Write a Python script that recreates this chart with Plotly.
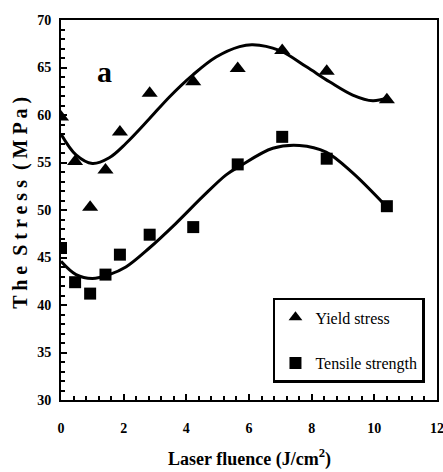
import plotly.graph_objects as go

fluence = [0, 0.45, 0.93, 1.42, 1.88, 2.83, 4.22, 5.64, 7.06, 8.48, 10.4]
yield_stress = [59.8, 55.1, 50.3, 54.2, 58.2, 62.3, 63.5, 64.9, 66.8, 64.6, 61.6]
tensile_strength = [46.0, 42.4, 41.2, 43.2, 45.3, 47.4, 48.2, 54.8, 57.7, 55.4, 50.4]

# Fitted trend curves
yield_fit_x = [0, 0.48, 1.0, 1.54, 2.07, 2.82, 3.46, 4.2, 4.95, 5.7, 6.12, 6.97, 7.82, 8.57, 9.31, 9.95, 10.4]
yield_fit_y = [58.0, 55.8, 54.9, 55.5, 57.0, 59.6, 61.9, 64.2, 66.1, 67.2, 67.4, 66.8, 65.1, 63.5, 62.1, 61.5, 61.8]
tensile_fit_x = [0, 0.48, 1.0, 1.54, 2.07, 2.82, 3.67, 4.52, 5.27, 5.7, 6.76, 7.61, 8.46, 9.31, 10.4]
tensile_fit_y = [44.6, 43.2, 42.8, 43.2, 44.0, 46.0, 48.6, 51.4, 53.7, 54.6, 56.5, 56.8, 56.1, 53.9, 50.3]

SERIF = "Liberation Serif"

fig = go.Figure()

fig.add_trace(go.Scatter(x=yield_fit_x, y=yield_fit_y, mode="lines",
                         line=dict(color="black", width=3, shape="spline", smoothing=1.0),
                         showlegend=False, hoverinfo="skip"))
fig.add_trace(go.Scatter(x=tensile_fit_x, y=tensile_fit_y, mode="lines",
                         line=dict(color="black", width=3, shape="spline", smoothing=1.0),
                         showlegend=False, hoverinfo="skip"))

fig.add_trace(go.Scatter(x=fluence, y=yield_stress, mode="markers", name="Yield stress",
                         legendgroup="a",
                         marker=dict(symbol="triangle-up", size=14, color="black")))
fig.add_trace(go.Scatter(x=fluence, y=tensile_strength, mode="markers", name="Tensile strength",
                         legendgroup="b",
                         marker=dict(symbol="square", size=12, color="black")))

axis_common = dict(
    showgrid=False, zeroline=False, showline=True, linecolor="black", linewidth=2,
    mirror=True, ticks="inside", ticklen=6, tickwidth=2, tickcolor="black",
    tickfont=dict(family=SERIF, size=14, color="black", weight="bold"),
    automargin=False, ticklabeloverflow="allow",
)

fig.update_xaxes(range=[0, 12], tickvals=[0, 2, 4, 6, 8, 10, 12], ticklabelstandoff=14,
                 minor=dict(dtick=0.4, ticks="inside", ticklen=4, tickwidth=1.5, tickcolor="black"),
                 **axis_common)
fig.update_yaxes(range=[30, 70], tickvals=[30, 35, 40, 45, 50, 55, 60, 65, 70], ticklabelstandoff=5,
                 minor=dict(dtick=1, ticks="inside", ticklen=4, tickwidth=1.5, tickcolor="black"),
                 **axis_common)

fig.add_annotation(text="Laser fluence (J/cm<sup>2</sup>)", xref="paper", yref="paper",
                   x=0.5, y=-0.152, xanchor="center", yanchor="middle", showarrow=False,
                   font=dict(family=SERIF, size=18, color="black", weight="bold"))
fig.add_annotation(text="T h e  S t r e s s  ( M P a )", xref="paper", yref="paper",
                   x=-0.108, y=0.52, xanchor="center", yanchor="middle", showarrow=False,
                   textangle=-90,
                   font=dict(family=SERIF, size=20, color="black", weight="bold"))
fig.add_annotation(text="a", xref="x", yref="y", x=1.38, y=64.6, showarrow=False,
                   font=dict(family=SERIF, size=30, color="black", weight="bold"))

fig.update_layout(
    width=443, height=472,
    margin=dict(l=61, r=6, t=20, b=72),
    paper_bgcolor="white", plot_bgcolor="white",
    legend=dict(x=0.968, y=0.045, xanchor="right", yanchor="bottom",
                bordercolor="black", borderwidth=2.5, bgcolor="white",
                tracegroupgap=22, itemsizing="constant",
                font=dict(family=SERIF, size=16, color="black")),
)

fig.write_html("out.html")
